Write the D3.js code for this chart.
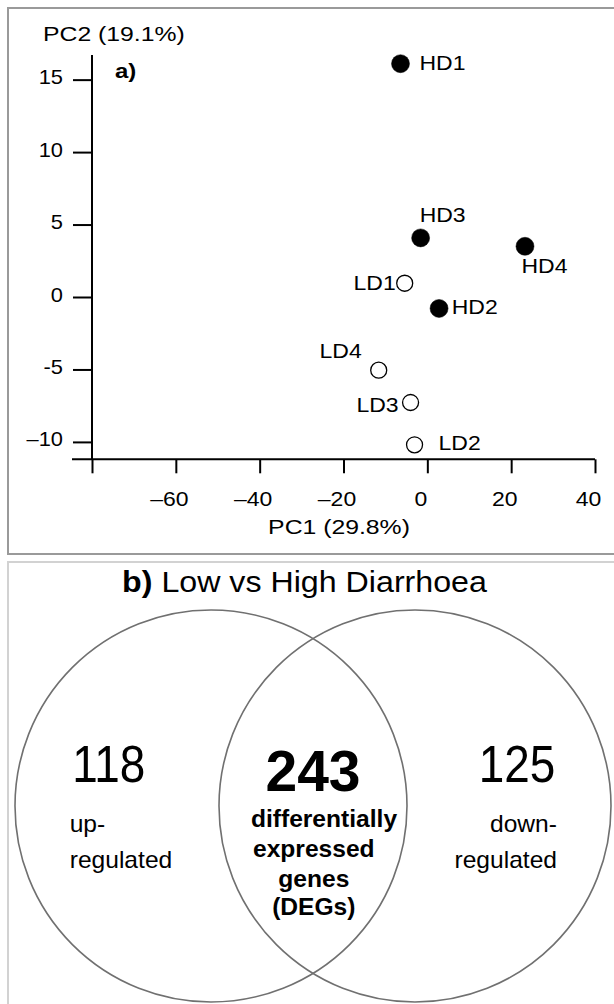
<!DOCTYPE html>
<html>
<head>
<meta charset="utf-8">
<script src="https://cdn.jsdelivr.net/npm/d3@7"></script>
<style>
  html, body { margin: 0; padding: 0; background: #fff; }
  svg { display: block; }
  text { font-family: "Liberation Sans", Arial, sans-serif; fill: #000; }
</style>
</head>
<body>
<script>
// ---------- DATA ----------
const samples = ["HD1", "HD2", "HD3", "HD4", "LD1", "LD2", "LD3", "LD4"];
const pc1Values = [-6.4, 2.8, -1.6, 23.3, -5.4, -3.05, -4.0, -11.6];
const pc2Values = [16.1, -0.79, 4.08, 3.5, 0.95, -10.2, -7.28, -5.05];
const groups = ["High", "High", "High", "High", "Low", "Low", "Low", "Low"];

const xTickValues = [-80, -60, -40, -20, 0, 20, 40];
const xTickLabels = ["", "\u201360", "\u201340", "\u201320", "0", "20", "40"];
const yTickValues = [-10, -5, 0, 5, 10, 15];
const yTickLabels = ["\u201310", "-5", "0", "5", "10", "15"];

const xAxisTitle = "PC1 (29.8%)";
const yAxisTitle = "PC2 (19.1%)";
const panelALabel = "a)";

const vennTitleBold = "b)";
const vennTitleRest = " Low vs High Diarrhoea";
const vennCounts = [118, 243, 125];
const upLabel = ["up-", "regulated"];
const downLabel = ["down-", "regulated"];
const degLabel = ["differentially", "expressed", "genes", "(DEGs)"];

// ---------- SETUP ----------
const W = 614, H = 1004;
const svg = d3.select("body").append("svg").attr("width", W).attr("height", H);

function stext(parent, x, y, str, opts) {
  opts = opts || {};
  return parent.append("text")
    .attr("transform", `translate(${x},${y}) scale(${opts.sx || 1},1)`)
    .attr("text-anchor", opts.anchor || "start")
    .style("font-size", (opts.size || 20) + "px")
    .style("font-weight", opts.bold ? "bold" : "normal")
    .text(str);
}

// panel frames
svg.append("rect").attr("x", 8).attr("y", 8).attr("width", 640).attr("height", 546)
  .attr("fill", "none").attr("stroke", "#9a9a9a").attr("stroke-width", 2);
svg.append("rect").attr("x", 8).attr("y", 562).attr("width", 640).attr("height", 500)
  .attr("fill", "none").attr("stroke", "#d2d2d2").attr("stroke-width", 2);

// ---------- PANEL A : PCA ----------
const x = d3.scaleLinear().domain([-80, 40]).range([92, 595]);
const y = d3.scaleLinear().domain([-11.2, 16.7]).range([459.3, 55]);
const SX = 1.15;

const gA = svg.append("g");

// y axis
const yAxis = d3.axisLeft(y).tickValues(yTickValues).tickSize(19).tickSizeOuter(0)
  .tickFormat((d, i) => yTickLabels[i]);
const gy = gA.append("g").attr("transform", `translate(${x(-80)},0)`).call(yAxis);
gy.select(".domain").remove();
gy.selectAll(".tick line").attr("stroke", "#000").attr("stroke-width", 2);
gy.selectAll(".tick text").each(function () {
  d3.select(this).attr("x", null).attr("dy", null).attr("y", null)
    .attr("text-anchor", "end")
    .attr("transform", `translate(-29,4) scale(${SX * 0.95},1)`)
    .style("font-size", "20px").style("font-family", null);
});
gy.attr("font-family", null).attr("font-size", null);

// x axis
const xAxis = d3.axisBottom(x).tickValues(xTickValues).tickSize(14).tickSizeOuter(0)
  .tickFormat((d, i) => xTickLabels[i]);
const gx = gA.append("g").attr("transform", `translate(0,${y(-11.2)})`).call(xAxis);
gx.select(".domain").remove();
gx.selectAll(".tick line").attr("stroke", "#000").attr("stroke-width", 2);
gx.selectAll(".tick text").each(function () {
  d3.select(this).attr("x", null).attr("dy", null).attr("y", null)
    .attr("text-anchor", "middle")
    .attr("transform", `translate(-7,47) scale(${SX},1)`)
    .style("font-size", "20px");
});
gx.attr("font-family", null).attr("font-size", null);

// axis lines
gA.append("line").attr("x1", x(-80)).attr("x2", x(-80)).attr("y1", y(16.7)).attr("y2", y(-11.2))
  .attr("stroke", "#000").attr("stroke-width", 2);
gA.append("line").attr("x1", x(-80) - 20).attr("x2", x(40)).attr("y1", y(-11.2)).attr("y2", y(-11.2))
  .attr("stroke", "#000").attr("stroke-width", 2);

// titles
stext(gA, 43, 41, yAxisTitle, { size: 21, sx: 1.18 });
stext(gA, 339, 534, xAxisTitle, { size: 21, sx: 1.18, anchor: "middle" });
stext(gA, 115, 78, panelALabel, { size: 20, sx: 1.2, bold: true });

// points
const pts = samples.map((s, i) => ({ name: s, pc1: pc1Values[i], pc2: pc2Values[i], group: groups[i] }));
gA.selectAll("circle.pt").data(pts).enter().append("circle")
  .attr("class", "pt")
  .attr("cx", d => x(d.pc1)).attr("cy", d => y(d.pc2))
  .attr("r", d => d.group === "High" ? 9 : 8)
  .attr("fill", d => d.group === "High" ? "#000" : "#fff")
  .attr("stroke", "#000").attr("stroke-width", d => d.group === "High" ? 0.5 : 1.3);

// label placement (layout only)
const labelPlace = {
  HD1: [19, 6, "start"], HD2: [12.6, 6, "start"], HD3: [-1, -16, "start"], HD4: [-3.5, 27, "start"],
  LD1: [-9, 7, "end"], LD2: [24, 5, "start"], LD3: [-12, 10, "end"], LD4: [-17, -12, "end"]
};
pts.forEach(d => {
  const p = labelPlace[d.name];
  stext(gA, x(d.pc1) + p[0], y(d.pc2) + p[1], d.name, { size: 20, sx: SX, anchor: p[2] });
});

// ---------- PANEL B : VENN ----------
const gB = svg.append("g");
const vennCx = d3.scaleLinear().domain([0, 1]).range([211, 415]);
const vennR = 196, vennCy = 806;
gB.selectAll("circle.venn").data([0, 1]).enter().append("circle")
  .attr("class", "venn")
  .attr("cx", d => vennCx(d)).attr("cy", vennCy).attr("r", vennR)
  .attr("fill", "none").attr("stroke", "#707070").attr("stroke-width", 1.6);

const tb = gB.append("text")
  .attr("transform", "translate(304.5,591.7) scale(1.11,1)")
  .attr("text-anchor", "middle").style("font-size", "29px");
tb.append("tspan").style("font-weight", "bold").text(vennTitleBold);
tb.append("tspan").text(vennTitleRest);

stext(gB, 108.7, 781.7, String(vennCounts[0]), { size: 51, sx: 0.9, anchor: "middle" });
stext(gB, 313, 790.7, String(vennCounts[1]), { size: 57, bold: true, anchor: "middle" });
stext(gB, 517, 781.7, String(vennCounts[2]), { size: 51, sx: 0.9, anchor: "middle" });

stext(gB, 69.7, 831.7, upLabel[0], { size: 23, sx: 1.07 });
stext(gB, 69.7, 868.3, upLabel[1], { size: 23, sx: 1.07 });
stext(gB, 557, 831.7, downLabel[0], { size: 23, sx: 1.07, anchor: "end" });
stext(gB, 557, 868.3, downLabel[1], { size: 23, sx: 1.07, anchor: "end" });

const degX = [324, 313.8, 313.8, 313.8];
const degY = [826.7, 856.7, 886.7, 915];
degLabel.forEach((t, i) => stext(gB, degX[i], degY[i], t, { size: 23, sx: 1.07, bold: true, anchor: "middle" }));
</script>
</body>
</html>
